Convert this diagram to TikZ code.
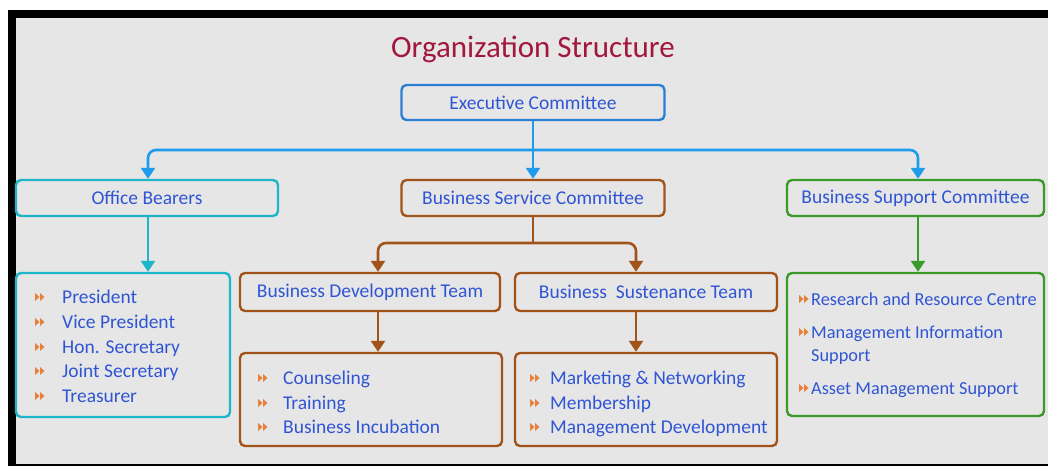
\documentclass[tikz,border=0pt]{standalone}
\usepackage{fontspec}
\setmainfont{Carlito}
\usetikzlibrary{arrows.meta}
\definecolor{bg}{HTML}{E6E6E6}
\definecolor{titlec}{HTML}{A3173F}
\definecolor{txtc}{HTML}{2F55D4}
\definecolor{execc}{HTML}{2A7FD4}
\definecolor{arrc}{HTML}{1E9BEB}
\definecolor{cyanc}{HTML}{1FB5C9}
\definecolor{brownc}{HTML}{A2531A}
\definecolor{greenc}{HTML}{3A9A2A}
\definecolor{bulc}{HTML}{E8803A}
\tikzset{
  box/.style={draw, rounded corners=5pt, line width=2.4pt, fill=bg, inner sep=0pt,
              text=txtc, font=\fontsize{19.5}{22}\selectfont},
  item/.style={anchor=base west, inner sep=0pt, text=txtc, font=\fontsize{19.5}{22}\selectfont},
  conn/.style={line width=2.6pt, rounded corners=8pt, -{Triangle[width=14pt,length=11pt]}},
  bul/.pic={\fill[bulc] (-5,-4)--(-0.5,0)--(-5,4)--cycle;
            \fill[bulc] (0,-4)--(4.5,0)--(0,4)--cycle;}
}
\begin{document}
\begin{tikzpicture}[x=1pt,y=-1pt]
\useasboundingbox (0,0) rectangle (1048,466);
\fill[white] (0,0) rectangle (1048,466);
\fill[black] (8,10) rectangle (1048,466);
\fill[bg] (16,18) rectangle (1048,464);

\node[text=titlec, font=\fontsize{31}{34}\selectfont] (title) at (533,49) {Organization Structure};

% main boxes
\node[box, draw=execc, minimum width=263pt, minimum height=35pt] (exec) at (533,102.5) {Executive Committee};
\node[box, draw=cyanc, minimum width=262pt, minimum height=36pt] (ob) at (147,198) {Office Bearers};
\node[box, draw=brownc, minimum width=263pt, minimum height=36pt] (bsc) at (533,198) {Business Service Committee};
\node[box, draw=greenc, minimum width=257pt, minimum height=36pt] (bsup) at (915.5,198) {Business Support Committee};

\node[box, draw=brownc, minimum width=260pt, minimum height=38pt] (bdt) at (370,292) {Business Development Team};
\node[box, draw=brownc, minimum width=262pt, minimum height=38pt] (bst) at (646,292) {Business\ \ Sustenance Team};

% list boxes
\node[box, draw=cyanc, minimum width=214pt, minimum height=144pt] (obl) at (123,345) {};
\node[box, draw=brownc, minimum width=262pt, minimum height=93pt] (bdtl) at (371,399.5) {};
\node[box, draw=brownc, minimum width=262pt, minimum height=93pt] (bstl) at (646,399.5) {};
\node[box, draw=greenc, minimum width=257pt, minimum height=143pt] (bsupl) at (915.5,344.5) {};

% connectors
\coordinate (j1) at (533,150);
\draw[conn, arrc] (exec.south) -- (bsc.north);
\draw[conn, arrc] (j1) -| ([xshift=1pt]ob.north);
\draw[conn, arrc] (j1) -| ([xshift=2.5pt]bsup.north);
\draw[conn, cyanc] ([xshift=1pt]ob.south) -- ([xshift=25pt]obl.north);
\draw[conn, greenc] ([xshift=2.5pt]bsup.south) -- ([xshift=2.5pt]bsupl.north);
\coordinate (j2) at (533,243);
\draw[line width=2.6pt, brownc] (bsc.south) -- (j2);
\draw[conn, brownc] (j2) -| ([xshift=8pt]bdt.north);
\draw[conn, brownc] (j2) -| ([xshift=-10pt]bst.north);
\draw[conn, brownc] ([xshift=8pt]bdt.south) -- ([xshift=7pt]bdtl.north);
\draw[conn, brownc] ([xshift=-10pt]bst.south) -- ([xshift=-10pt]bstl.north);

% office bearers items
\foreach \t/\y/\n in {President/297/p1, Vice President/322/p2, Hon. Secretary/347/p3, Joint Secretary/371/p4, Treasurer/396/p5}{
  \node[item] (\n) at (62,\y+6.5) {\t};
  \pic at (40,\y) {bul};
}
% business development items
\foreach \t/\y/\n in {Counseling/378/d1, Training/403/d2, Business Incubation/427/d3}{
  \node[item] (\n) at (283,\y+6.5) {\t};
  \pic at (263,\y) {bul};
}
% business sustenance items
\foreach \t/\y/\n in {Marketing \& Networking/378/s1, Membership/403/s2, Management Development/427/s3}{
  \node[item] (\n) at (550,\y+6.5) {\t};
  \pic at (535,\y) {bul};
}
% business support items
\tikzset{sitem/.style={item, font=\fontsize{18.3}{20}\selectfont}}
\node[sitem] (r1) at (811,305) {Research and Resource Centre};
\pic at (804,299) {bul};
\node[sitem] (r2) at (811,338) {Management Information};
\node[sitem] (r2b) at (811,361) {Support};
\pic at (804,332) {bul};
\node[sitem] (r3) at (811,394) {Asset Management Support};
\pic at (804,388) {bul};
\end{tikzpicture}
\end{document}
